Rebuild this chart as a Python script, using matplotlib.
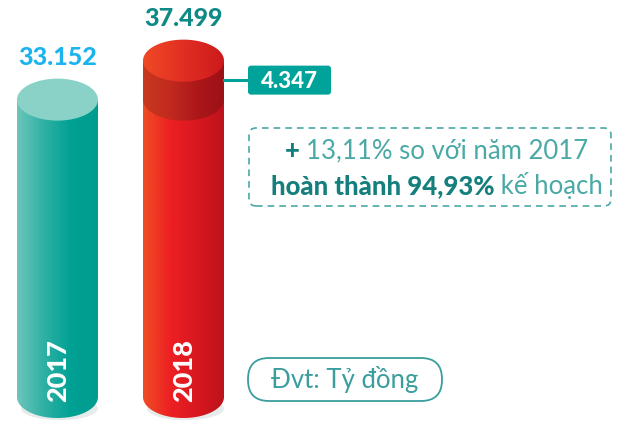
import numpy as np
import matplotlib
matplotlib.use("Agg")
import matplotlib.pyplot as plt
from matplotlib.path import Path
from matplotlib.patches import PathPatch, Ellipse, FancyBboxPatch
from matplotlib.colors import LinearSegmentedColormap

# ---------------- data ----------------
years = ["2017", "2018"]
values = [33152, 37499]          # tỷ đồng
growth_text = "13,11%"
plan_text = "94,93%"
unit_text = "Đvt: Tỷ đồng"

def fmt(v):
    return f"{v:,.0f}".replace(",", ".")

# ---------------- layout ----------------
W, H = 618, 427
PX = 8.97 / 1000.0             # pixels per tỷ đồng
BASE_PX = 427 - 398            # baseline distance from bottom (px)
CYL_W = 81
EH = 21                        # ellipse semi-height in px
centers = [57.5, 183.5]

fig = plt.figure(figsize=(W / 100, H / 100), dpi=100)
ax = fig.add_axes([0, 0, 1, 1])
ax.set_xlim(0, W)
ax.set_ylim(-BASE_PX / PX, (H - BASE_PX) / PX)
ax.axis("off")
ov = fig.add_axes([0, 0, 1, 1])
ov.set_xlim(0, W)
ov.set_ylim(0, H)
ov.axis("off")
ov.patch.set_alpha(0)

h = EH / PX

def body_path(cx, y0, y1):
    x0, x1 = cx - CYL_W / 2, cx + CYL_W / 2
    t = np.linspace(np.pi, 2 * np.pi, 80)
    bx = cx + CYL_W / 2 * np.cos(t)
    by = y0 + h * np.sin(t)
    verts = [(x0, y1)] + list(zip(bx, by)) + [(x1, y1), (x0, y1)]
    codes = [Path.MOVETO] + [Path.LINETO] * (len(verts) - 2) + [Path.CLOSEPOLY]
    return Path(verts, codes)

def grad_fill(path, cmap, x0, x1, y0, y1, z):
    patch = PathPatch(path, facecolor="none", edgecolor="none", transform=ax.transData)
    ax.add_patch(patch)
    g = np.linspace(0, 1, 256).reshape(1, -1)
    im = ax.imshow(g, cmap=cmap, extent=[x0, x1, y0, y1], aspect="auto",
                   interpolation="bicubic", zorder=z, origin="lower")
    im.set_clip_path(patch)

def ellipse_path(cx, yc):
    t = np.linspace(0, 2 * np.pi, 160)
    verts = list(zip(cx + CYL_W / 2 * np.cos(t), yc + h * np.sin(t)))
    return Path(verts, closed=True)

teal_body = LinearSegmentedColormap.from_list("tb", ["#6cc6bb", "#2fb0a5", "#00a194", "#009c90"])
red_body = LinearSegmentedColormap.from_list("rb", ["#ef4e24", "#ed2024", "#d8171f", "#bd131b"])
red_band = LinearSegmentedColormap.from_list("rband", ["#c8391f", "#c22a1f", "#ac1719", "#9c1116"])
red_top = LinearSegmentedColormap.from_list("rt", ["#ef4a26", "#e12e22", "#cc1a1c"])

for cx in centers:
    ax.add_patch(Ellipse((cx + 2, -h * 0.55), CYL_W * 0.95, h * 1.1,
                         facecolor="#c9d3d6", edgecolor="none", alpha=0.45, zorder=1))

cx = centers[0]
v = values[0]
grad_fill(body_path(cx, 0, v), teal_body, cx - CYL_W / 2, cx + CYL_W / 2, -h, v, 2)
ax.add_patch(Ellipse((cx, v), CYL_W, 2 * h, facecolor="#8ad2c8", edgecolor="none", zorder=4))

cx = centers[1]
v0, v1 = values
grad_fill(body_path(cx, 0, v0), red_body, cx - CYL_W / 2, cx + CYL_W / 2, -h, v0, 2)
grad_fill(body_path(cx, v0, v1), red_band, cx - CYL_W / 2, cx + CYL_W / 2, v0 - h, v1, 3)
grad_fill(ellipse_path(cx, v1), red_top, cx - CYL_W / 2, cx + CYL_W / 2, v1 - h, v1 + h, 4)

BOLD = "black"
val_colors = ["#1cb3ee", "#0e8a86"]
for cx, v, c in zip(centers, values, val_colors):
    ax.text(cx, v + h + 22 / PX, fmt(v), ha="center", va="center", color=c,
            fontsize=18, fontweight=BOLD, family="Lato", zorder=6)

for cx, y in zip(centers, years):
    ax.text(cx + 1, 27 / PX, y, rotation=90, ha="center", va="center", color="white",
            fontsize=19.5, fontweight=BOLD, family="Lato", zorder=6)

diff = values[1] - values[0]
ymid = (values[0] + values[1]) / 2
ax.plot([centers[1] + CYL_W / 2, 250], [ymid, ymid], color="#00a19a", lw=2.2, zorder=5)
ymid_px = BASE_PX + ymid * PX
ov.add_patch(FancyBboxPatch((248, ymid_px - 14.5), 83, 29,
                            boxstyle="round,pad=0,rounding_size=3",
                            facecolor="#00a39a", edgecolor="none", zorder=6))
ov.text(289.5, ymid_px, fmt(diff), ha="center", va="center", color="white",
        fontsize=16, fontweight=BOLD, family="Lato", zorder=7)

ov.add_patch(FancyBboxPatch((249, H - 207), 362, 78,
                            boxstyle="round,pad=0,rounding_size=7",
                            facecolor="none", edgecolor="#4aa9a7", lw=1.2,
                            linestyle=(0, (4, 3)), zorder=6))

dark = "#147f7c"
light = "#4aa9a6"
fig.canvas.draw()
rend = fig.canvas.get_renderer()

def mixed_line(pieces, xc, y, fs):
    texts = []
    for s, bold, col in pieces:
        t = ov.text(0, y, s, ha="left", va="center", color=col, fontsize=fs,
                    fontweight=BOLD if bold else "normal", family="Lato", zorder=7)
        texts.append(t)
    widths = [t.get_window_extent(rend).width for t in texts]
    x = xc - sum(widths) / 2
    for t, w in zip(texts, widths):
        t.set_x(x)
        x += w

mixed_line([("+ ", True, dark), (f"{growth_text} so với năm {years[0]}", False, light)],
           437, H - 151, 18.5)
mixed_line([(f"hoàn thành {plan_text}", True, dark), (" kế hoạch", False, light)],
           437, H - 186, 18.5)

ov.add_patch(FancyBboxPatch((248, H - 402), 194, 43,
                            boxstyle="round,pad=0,rounding_size=21",
                            facecolor="none", edgecolor="#3a9e9d", lw=1.3, zorder=6))
ov.text(345, H - 380, unit_text, ha="center", va="center", color="#3a9e9d",
        fontsize=18.5, family="Lato", zorder=7)

fig.savefig("out.png", dpi=100)
